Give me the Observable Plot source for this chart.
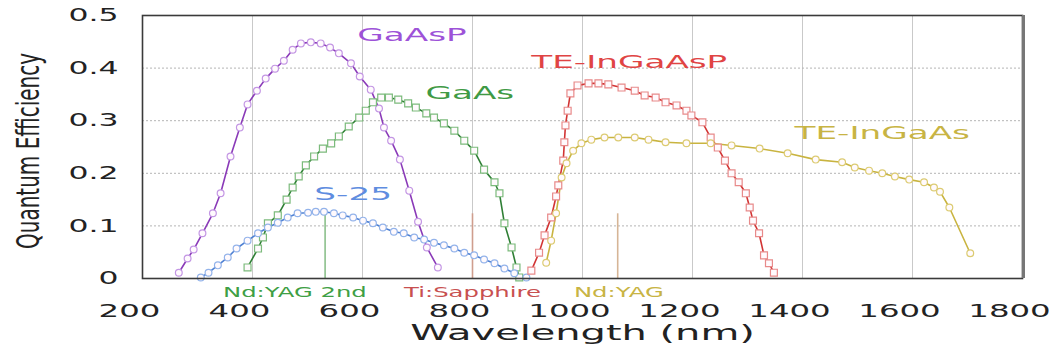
<!DOCTYPE html>
<html><head><meta charset="utf-8">
<script src="https://cdn.jsdelivr.net/npm/d3@7"></script>
<script src="https://cdn.jsdelivr.net/npm/@observablehq/plot@0.6"></script>
<style>
html,body{margin:0;padding:0;background:#fff;}
#chart{width:1049px;height:355px;overflow:hidden;}
</style></head><body><div id="chart"></div>
<script>
// ---- data ----
const xTicks = [200, 400, 600, 800, 1000, 1200, 1400, 1600, 1800];
const yTicks = [0, 0.1, 0.2, 0.3, 0.4, 0.5];
const seriesNames = ["GaAsP", "GaAs", "S-25", "TE-InGaAsP", "TE-InGaAs"];

const gaaspWl = [266,282,293,309,328,342,360,377,391,408,424,441,457,473,488,506,524,541,557,579,595,615,630,639,652,668,685,701,717,737];
const gaaspQE = [0.011,0.038,0.055,0.086,0.124,0.162,0.232,0.287,0.331,0.357,0.380,0.399,0.414,0.435,0.447,0.449,0.447,0.439,0.428,0.409,0.384,0.359,0.323,0.287,0.262,0.226,0.167,0.108,0.059,0.021];

const gaasWl = [391,410,419,428,446,462,473,484,497,512,528,543,557,575,594,606,619,634,648,665,683,697,716,730,748,767,785,803,821,840,849,858,871,880,885];
const gaasQE = [0.021,0.057,0.078,0.105,0.120,0.150,0.173,0.194,0.215,0.232,0.247,0.257,0.270,0.289,0.306,0.319,0.335,0.344,0.344,0.340,0.333,0.325,0.314,0.306,0.295,0.281,0.262,0.243,0.207,0.183,0.162,0.105,0.059,0.021,0.002];

const s25Wl = [306,320,337,355,371,391,410,428,446,464,482,501,515,530,548,564,583,601,619,637,657,675,694,712,730,748,767,785,803,821,840,858,876,898];
const s25QE = [0.002,0.011,0.025,0.040,0.057,0.072,0.086,0.097,0.106,0.116,0.124,0.125,0.127,0.127,0.124,0.120,0.116,0.110,0.105,0.097,0.089,0.086,0.078,0.074,0.068,0.063,0.057,0.049,0.044,0.036,0.029,0.019,0.010,0.002];

const teInGaAsPWl = [907,921,931,943,952,956,965,967,969,973,978,991,1011,1029,1047,1071,1095,1113,1133,1151,1171,1189,1198,1218,1233,1246,1259,1271,1284,1297,1304,1310,1321,1330,1339,1348];
const teInGaAsPQE = [0.015,0.049,0.082,0.116,0.156,0.177,0.224,0.259,0.291,0.319,0.352,0.367,0.371,0.371,0.369,0.363,0.357,0.348,0.344,0.335,0.329,0.319,0.310,0.297,0.268,0.249,0.224,0.200,0.183,0.162,0.135,0.110,0.086,0.044,0.029,0.011];

const teInGaAsWl = [934,943,952,962,971,983,998,1016,1040,1065,1095,1120,1151,1189,1233,1271,1322,1373,1424,1472,1495,1521,1545,1568,1594,1621,1639,1650,1667,1705];
const teInGaAsQE = [0.030,0.072,0.124,0.192,0.219,0.243,0.257,0.264,0.268,0.268,0.268,0.264,0.259,0.257,0.257,0.253,0.247,0.238,0.226,0.221,0.211,0.205,0.200,0.194,0.188,0.183,0.173,0.165,0.135,0.048];

const seriesLabelWl = [690, 795, 583, 1085, 1545];
const seriesLabelQE = [0.462, 0.352, 0.160, 0.411, 0.276];

const laserNames = ["Nd:YAG 2nd", "Ti:Sapphire", "Nd:YAG"];
const laserWl = [532, 800, 1064];
const laserQE = [0.123, 0.123, 0.123];
const laserLabelWl = [477, 800, 1066];

const xTitle = "Wavelength (nm)";
const yTitle = "Quantum Efficiency";

// ---- styles ----
const styles = {
  "GaAsP":      {symbol: "circle", line: "#8a3ab8", mark: "#c396e4", label: "#9d52d8"},
  "GaAs":       {symbol: "square", line: "#2f7f35", mark: "#7cbb7c", label: "#3f9a45"},
  "S-25":       {symbol: "circle", line: "#4f80d2", mark: "#93b3ea", label: "#5f8de0"},
  "TE-InGaAsP": {symbol: "square", line: "#d23434", mark: "#e88a8a", label: "#e04444"},
  "TE-InGaAs":  {symbol: "circle", line: "#c9b440", mark: "#dccb72", label: "#c8b444"}
};
const laserColors = ["#8cc08c", "#cf9e8e", "#d6b596"];
const laserTextColors = ["#3f9f45", "#c85050", "#c8b444"];

const wls = [gaaspWl, gaasWl, s25Wl, teInGaAsPWl, teInGaAsWl];
const qes = [gaaspQE, gaasQE, s25QE, teInGaAsPQE, teInGaAsQE];
const table = seriesNames.map((name, i) => wls[i].map((w, j) => ({series: name, wl: w, qe: qes[i][j]})));
const lasers = laserNames.map((n, i) => ({name: n, wl: laserWl[i], qe: laserQE[i], lx: laserLabelWl[i], i}));
const labels = seriesNames.map((n, i) => ({name: n, wl: seriesLabelWl[i], qe: seriesLabelQE[i]}));

const seriesMarks = [];
table.forEach((rows, i) => {
  const st = styles[seriesNames[i]];
  seriesMarks.push(Plot.line(rows, {x: "wl", y: "qe", stroke: st.line, strokeWidth: 1.6}));
});
table.forEach((rows, i) => {
  const st = styles[seriesNames[i]];
  seriesMarks.push(Plot.dot(rows, {x: "wl", y: "qe", symbol: st.symbol, r: st.symbol === "square" ? 3.9 : 3.4,
    stroke: st.mark, strokeWidth: 1.2, fill: "#fffafd"}));
});

const plot = Plot.plot({
  width: 1049, height: 355,
  marginLeft: 142, marginRight: 27, marginTop: 15, marginBottom: 77,
  style: {fontFamily: "DejaVu Sans, sans-serif", background: "#fff", overflow: "visible"},
  x: {domain: [200, 1800]},
  y: {domain: [0, 0.5]},
  marks: [
    Plot.ruleX(xTicks.slice(1, -1), {stroke: "#c9c9c9", strokeWidth: 1}),
    Plot.ruleY(yTicks.slice(1, -1), {stroke: "#b4b4b4", strokeWidth: 1, strokeDasharray: "2,2"}),
    Plot.ruleX(lasers, {x: "wl", y1: 0, y2: "qe", stroke: d => laserColors[d.i], strokeWidth: 1.6}),
    ...seriesMarks,
    Plot.frame({stroke: "#3a3a3a", strokeWidth: 1.6}),
    Plot.ruleX([1800], {stroke: "#777", strokeWidth: 3, dx: 1}),
    Plot.axisX({ticks: xTicks, tickSize: 0, tickPadding: 25, fontSize: 18.5, dx: -13, label: null, fill: "#222",
      tickFormat: d => String(d)}),
    Plot.axisY({ticks: yTicks, tickSize: 0, tickPadding: 24, fontSize: 18, label: null, fill: "#222",
      tickFormat: d => d === 0 ? "0" : d.toFixed(1)}),
    Plot.text(labels, {x: "wl", y: "qe", text: "name", fontSize: 18, fill: d => styles[d.name].label}),
    Plot.text(lasers, {x: "lx", y: 0, text: "name", dy: 14, fontSize: 13.5, fill: d => laserTextColors[d.i]}),
    Plot.text([xTitle], {frameAnchor: "bottom", dy: 61, fontSize: 21, fill: "#222"}),
    Plot.text([yTitle], {frameAnchor: "left", textAnchor: "middle", dx: -114, dy: 4, rotate: -90, fontSize: 20, fill: "#222"})
  ]
});
document.getElementById("chart").append(plot);

function stretchText(t, f) {
  const w = t.getComputedTextLength();
  t.setAttribute("textLength", (w * f).toFixed(1));
  t.setAttribute("lengthAdjust", "spacingAndGlyphs");
}
plot.querySelectorAll("text").forEach(t => {
  const s = t.textContent;
  if (seriesNames.includes(s)) stretchText(t, 1.9);
  else if (laserNames.includes(s)) stretchText(t, 1.8);
  else if (s === xTitle) stretchText(t, 1.9);
  else if (s === yTitle) {
    const tr = t.getAttribute("transform") || "";
    t.setAttribute("transform", tr + " scale(1,1.6)");
  }
});
plot.querySelectorAll('g[aria-label="x-axis tick label"] text, g[aria-label="y-axis tick label"] text').forEach(t => stretchText(t, 1.75));
</script>
</body></html>
